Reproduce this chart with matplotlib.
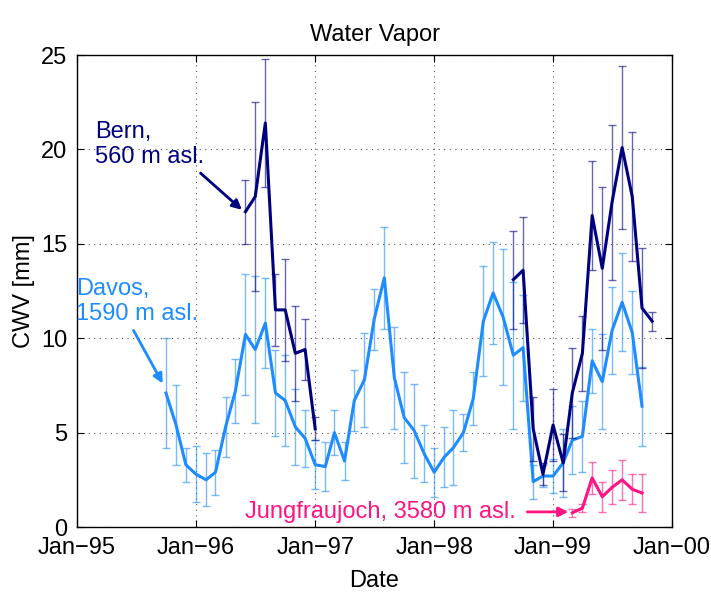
import matplotlib
matplotlib.use("Agg")
import matplotlib.pyplot as plt
import datetime as dt

plt.rcParams['font.family'] = ['Liberation Sans', 'DejaVu Sans']

def mdate(m):
    return dt.date(1995 + m // 12, m % 12 + 1, 1)

davos_m = list(range(9, 58))
davos_v = [7.1,5.4,3.3,2.8,2.5,2.9,5.3,7.2,10.2,9.4,10.8,7.1,6.7,5.3,4.7,3.3,3.2,5.0,3.5,
           6.7,7.8,11.0,13.2,7.9,5.8,5.1,3.9,2.9,3.7,4.2,5.0,6.8,10.9,12.4,11.1,9.1,9.5,
           2.4,2.7,2.7,3.4,4.6,4.8,8.8,7.7,10.4,11.9,10.3,6.4]
davos_e = [2.9,2.1,0.9,1.5,1.4,1.2,1.6,1.7,3.2,3.9,2.4,2.3,2.4,2.0,1.5,1.3,1.3,1.2,1.0,
           1.6,2.5,1.6,2.7,2.7,2.4,2.5,1.5,1.3,1.6,2.0,1.0,1.4,2.9,2.7,3.6,3.9,2.8,
           0.9,0.6,0.9,1.8,1.8,1.9,1.7,2.5,2.3,2.6,2.2,2.1]

bern1_m = list(range(17, 25))
bern1_v = [16.7,17.5,21.4,11.5,11.5,9.2,9.4,5.2]
bern1_e = [1.7,5.0,3.4,1.9,2.7,2.5,1.6,0.6]
bern2_m = list(range(44, 59))
bern2_v = [13.1,13.6,5.2,2.8,5.4,3.4,7.1,9.2,16.5,13.7,17.2,20.1,17.5,11.6,10.9]
bern2_e = [2.6,2.8,1.7,0.6,1.9,1.5,2.4,2.0,2.9,4.3,4.1,4.3,3.4,3.2,0.5]

jung_m = list(range(50, 58))
jung_v = [0.75,1.0,2.6,1.6,2.1,2.5,2.0,1.8]
jung_e = [0.2,0.2,0.85,0.8,0.9,1.05,0.8,1.0]

c_bern = "#00007F"
c_davos = "#1E8CFF"
c_jung = "#FF1482"
FS = 17

fig = plt.figure(figsize=(7.11, 5.93), dpi=100)
ax = fig.add_axes([77/711, 1-527/593, (672-77)/711, (527-55)/593])

def plot_series(ms, vs, es, c):
    d = [mdate(m) for m in ms]
    ax.errorbar(d, vs, yerr=es, fmt='none', ecolor=c, alpha=0.6, elinewidth=1, capsize=3)
    ax.plot(d, vs, color=c, lw=2.2)

plot_series(davos_m, davos_v, davos_e, c_davos)
plot_series(bern1_m, bern1_v, bern1_e, c_bern)
plot_series(bern2_m, bern2_v, bern2_e, c_bern)
plot_series(jung_m, jung_v, jung_e, c_jung)

ax.set_xlim(dt.date(1995, 1, 1), dt.date(2000, 1, 1))
ax.set_ylim(0, 25)
ticks = [dt.date(y, 1, 1) for y in range(1995, 2001)]
ax.set_xticks(ticks)
ax.set_xticklabels(["Jan\u221295", "Jan\u221296", "Jan\u221297", "Jan\u221298", "Jan\u221299", "Jan\u221200"])
ax.set_yticks([0, 5, 10, 15, 20, 25])
ax.grid(True, linestyle=(0, (1, 4)), color="#555555", lw=0.8)
ax.tick_params(direction="in", labelsize=FS, top=True, right=True, length=5, pad=7)
for s in ax.spines.values():
    s.set_linewidth(1.0)
ax.set_title("Water Vapor", fontsize=FS, pad=10)
ax.set_xlabel("Date", fontsize=FS, labelpad=8)
ax.set_ylabel("CWV [mm]", fontsize=FS, labelpad=4)

ax.annotate("Bern,\n560 m asl.", xy=(mdate(16)+dt.timedelta(days=20), 16.8),
            xytext=(dt.date(1995, 2, 25), 21.5), color=c_bern, fontsize=FS, va="top",
            arrowprops=dict(arrowstyle="-|>", color=c_bern, lw=2, shrinkA=2, shrinkB=0,
                            relpos=(0.92, 0), mutation_scale=14), annotation_clip=False)
ax.annotate("Davos,\n1590 m asl.", xy=(mdate(8)+dt.timedelta(days=20), 7.6),
            xytext=(dt.date(1994, 12, 28), 13.2), color=c_davos, fontsize=FS, va="top",
            arrowprops=dict(arrowstyle="-|>", color=c_davos, lw=2, shrinkA=2, shrinkB=0,
                            relpos=(0.45, 0), mutation_scale=14), annotation_clip=False)
ax.annotate("Jungfraujoch, 3580 m asl.", xy=(mdate(50)-dt.timedelta(days=12), 0.8),
            xytext=(dt.date(1996, 6, 1), 0.8), color=c_jung, fontsize=FS, va="center",
            arrowprops=dict(arrowstyle="-|>", color=c_jung, lw=2, shrinkA=6, shrinkB=0,
                            mutation_scale=14))

fig.savefig("out.png", dpi=100)
